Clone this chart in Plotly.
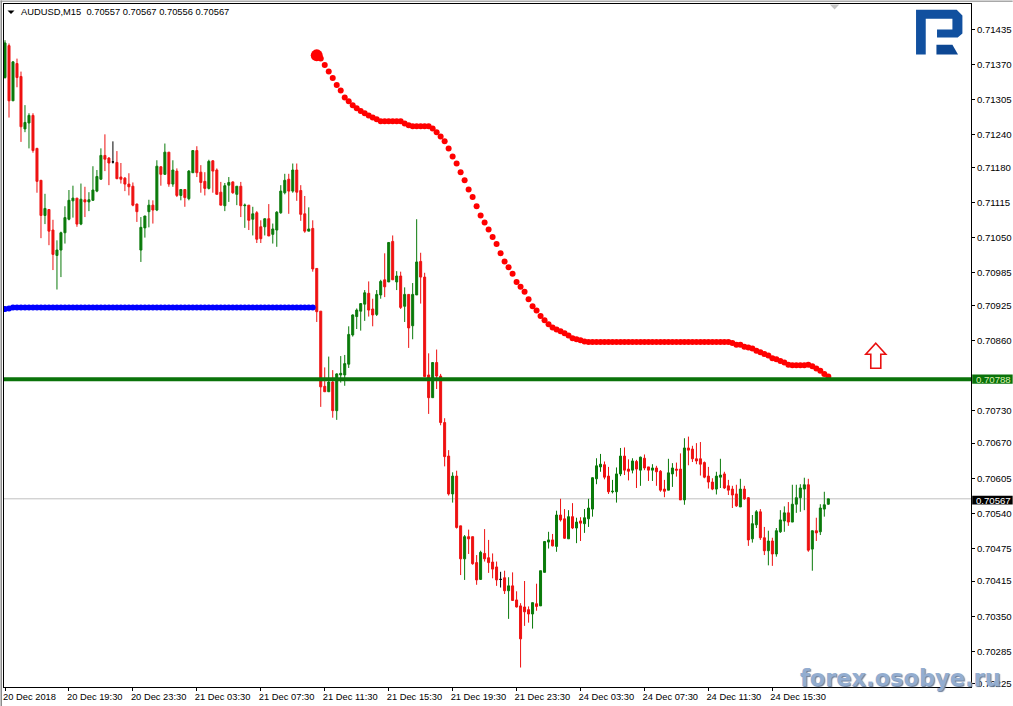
import plotly.graph_objects as go

W, H = 1013, 706
PL, PR, PT, PB = 3.5, 971.3, 3.5, 687.0

# prices are stored as points above 0.70000 (1 point = 0.00001)
open_pts = [
 1346,1405,1303,1372,1348,1251,1262,1276,1215,1156,
 1091,1102,1064,1017,1027,1059,1084,1118,1123,1075,
 1120,1116,1119,1136,1158,1202,1197,1190,1189,1162,
 1160,1149,1145,1112,1027,1068,1098,1110,1101,1181,
 1167,1208,1149,1173,1128,1139,1122,1170,1211,1171,
 1154,1141,1192,1175,1134,1109,1147,1153,1130,1145,
 1109,1110,1084,1096,1070,1070,1085,1056,1064,1096,
 1133,1158,1136,1175,1137,1094,1062,1067,993,914,
 775,765,783,730,796,796,816,870,904,914,
 927,947,918,908,944,972,968,1043,968,979,
 923,945,887,944,1006,977,796,754,819,794,
 708,646,576,609,517,456,497,497,449,418,
 466,458,450,441,418,421,397,406,380,369,
 367,362,354,373,369,431,487,491,479,537,
 530,493,534,513,526,521,530,548,604,626,
 630,609,580,580,613,646,622,620,636,620,
 642,626,620,624,618,585,583,613,622,622,
 565,661,659,641,641,634,609,598,585,607,
 613,591,585,576,552,585,569,493,519,543,
 495,471,489,465,506,526,541,524,557,569,
 585,593,474,508,506,548,557]
high_pts = [
 1415,1409,1376,1381,1357,1295,1280,1280,1216,1156,
 1131,1102,1083,1045,1061,1108,1138,1146,1123,1150,
 1144,1134,1182,1175,1215,1241,1199,1228,1210,1188,
 1162,1169,1152,1113,1088,1090,1120,1119,1193,1182,
 1224,1208,1193,1178,1139,1139,1175,1211,1219,1184,
 1171,1194,1193,1178,1153,1151,1162,1154,1145,1153,
 1113,1110,1107,1099,1082,1085,1112,1076,1099,1147,
 1168,1168,1187,1187,1147,1127,1106,1082,993,914,
 810,830,805,799,831,833,886,908,919,929,
 953,969,937,953,972,1021,1041,1054,988,987,
 958,945,966,1084,1022,985,836,819,843,798,
 716,657,616,619,517,500,510,497,463,471,
 511,491,466,451,432,434,422,431,396,374,
 415,368,375,410,434,489,506,502,545,567,
 548,546,559,532,533,548,567,607,642,650,
 636,626,602,625,661,662,640,642,639,645,
 649,626,631,628,620,602,641,633,634,651,
 679,682,665,670,672,636,626,605,617,641,
 617,602,591,593,604,591,570,537,546,548,
 515,508,495,513,546,553,561,593,593,594,
 606,604,508,532,557,580,567]
low_pts = [
 1344,1272,1303,1328,1227,1245,1215,1207,1133,1049,
 1075,1036,990,954,977,1039,1082,1087,1070,1073,
 1088,1099,1118,1134,1157,1173,1147,1187,1158,1150,
 1136,1128,1108,1079,1005,1050,1069,1076,1099,1146,
 1166,1144,1144,1125,1119,1107,1119,1170,1162,1133,
 1128,1139,1133,1130,1110,1099,1116,1131,1110,1088,
 1068,1064,1054,1040,1040,1054,1053,1039,1033,1094,
 1130,1094,1133,1118,1081,1059,1062,987,894,737,
 765,765,717,713,782,776,809,867,881,878,
 896,904,886,905,937,940,968,972,953,918,
 894,846,862,944,928,793,724,754,770,703,
 627,573,560,512,426,417,465,445,408,417,
 451,430,420,406,403,391,345,378,366,255,
 332,338,327,360,369,431,475,479,469,525,
 493,493,511,485,489,504,515,534,594,617,
 603,576,577,560,609,611,601,614,587,591,
 620,600,600,591,580,570,583,589,608,565,
 556,629,635,631,610,605,586,583,575,587,
 585,574,550,552,552,565,480,486,513,491,
 463,444,443,460,504,506,517,524,541,543,
 546,469,434,489,500,534,556]
close_pts = [
 1410,1303,1375,1346,1255,1263,1276,1211,1154,1091,
 1104,1062,1019,1027,1059,1087,1119,1123,1075,1121,
 1116,1120,1138,1163,1202,1195,1188,1190,1159,1158,
 1149,1144,1110,1098,1069,1090,1110,1101,1182,1167,
 1208,1149,1175,1128,1139,1124,1173,1211,1170,1152,
 1141,1191,1173,1130,1110,1146,1152,1133,1145,1109,
 1110,1082,1094,1047,1048,1085,1053,1066,1097,1136,
 1156,1136,1175,1134,1093,1062,1066,992,913,774,
 765,783,730,798,799,817,871,907,916,928,
 948,916,907,945,969,959,1041,972,979,921,
 945,883,945,1005,977,793,754,819,794,708,
 645,576,609,514,456,497,493,447,417,468,
 456,449,437,417,418,397,406,379,367,308,
 358,354,375,368,434,488,491,480,537,528,
 494,534,513,524,522,532,550,606,628,631,
 607,580,581,613,646,620,618,637,622,644,
 624,620,624,617,583,581,615,624,620,565,
 661,657,641,637,631,607,598,585,609,611,
 587,583,574,554,585,567,491,521,543,495,
 471,489,465,508,528,541,524,557,569,587,
 593,472,508,504,550,556,567]

# blue dotted indicator, one value per bar from bar 0
blue_pts = [918,919,921,921,921,921,921,921,921,921,
 921,921,921,921,921,921,921,921,921,921,
 921,921,921,921,921,921,921,921,921,921,
 921,921,921,921,921,921,921,921,921,921,
 921,921,921,921,921,921,921,921,921,921,
 921,921,921,921,921,921,921,921,921,921,
 921,921,921,921,921,921,921,921,921,921,
 921,921,921,921,921,921,921,921]

# red dotted indicator, one value per bar from bar 79; large start dot on bar 78
red_start_bar = 78
red_start_pts = 1387
red_pts = [1381,1369,1357,1345,1332,1322,1309,1302,1295,1289,1284,1280,1276,1272,1269,1265,
 1265,1265,1265,1265,1265,1261,1258,1256,1256,1256,1256,1256,1252,1245,1237,1228,1215,1200,
 1187,1171,1156,1139,1125,1108,1091,1078,1065,1051,1038,1021,1006,995,983,968,959,950,936,
 923,915,905,897,890,884,880,877,873,869,864,862,860,858,
 857,857,857,857,857,857,857,857,857,857,857,857,857,857,857,857,857,857,
 857,857,857,857,857,857,857,857,857,857,857,857,857,857,857,857,857,857,
 855,852,852,848,847,845,841,838,835,832,827,825,822,819,815,814,814,814,814,815,812,808,804,798,793]

support_price = 0.70788
bid_price = 0.70567

y_tick_labels = ["0.71435","0.71370","0.71305","0.71240","0.71180","0.71115","0.71050",
                 "0.70985","0.70925","0.70860","0.70730","0.70670","0.70605","0.70540",
                 "0.70475","0.70415","0.70350","0.70285","0.70225"]
x_tick_bars = [0,16,32,48,64,80,96,112,128,144,160,176,192]
x_tick_labels = ["20 Dec 2018","20 Dec 19:30","20 Dec 23:30","21 Dec 03:30","21 Dec 07:30",
                 "21 Dec 11:30","21 Dec 15:30","21 Dec 19:30","21 Dec 23:30","24 Dec 03:30",
                 "24 Dec 07:30","24 Dec 11:30","24 Dec 15:30"]
header = "AUDUSD,M15  0.70557 0.70567 0.70556 0.70567"

def price(p):
    return round(0.7 + p / 100000, 5)

def px(x):
    return (x - PL) / (PR - PL)

def py(y):
    return (PB - y) / (PB - PT)

def path(points):
    return "M" + " L".join(f"{px(a):.5f},{py(b):.5f}" for a, b in points) + " Z"

FONT = "Liberation Sans"
GREEN, RED = "#0a7a0a", "#ee1111"
bars = list(range(len(open_pts)))
O, Hi, Lo, C = [[price(v) for v in s] for s in (open_pts, high_pts, low_pts, close_pts)]

fig = go.Figure()

def candles(kind, colour):
    idx = [i for i in bars if kind(O[i], C[i])]
    fig.add_trace(go.Candlestick(
        x=idx, open=[O[i] for i in idx], high=[Hi[i] for i in idx],
        low=[Lo[i] for i in idx], close=[C[i] for i in idx],
        whiskerwidth=0, hoverinfo="skip", showlegend=False,
        increasing=dict(line=dict(color=colour, width=1), fillcolor=colour),
        decreasing=dict(line=dict(color=colour, width=1), fillcolor=colour)))

candles(lambda o, c: c > o, GREEN)
candles(lambda o, c: c < o, RED)
candles(lambda o, c: c == o, "#000000")

fig.add_trace(go.Scatter(x=list(range(len(blue_pts))), y=[price(v) for v in blue_pts],
                         mode="markers", marker=dict(color="#0000ff", size=6),
                         showlegend=False, hoverinfo="skip"))
fig.add_trace(go.Scatter(x=list(range(red_start_bar + 1, red_start_bar + 1 + len(red_pts))),
                         y=[price(v) for v in red_pts],
                         mode="markers", marker=dict(color="#ff0000", size=6),
                         showlegend=False, hoverinfo="skip"))
fig.add_trace(go.Scatter(x=[red_start_bar], y=[price(red_start_pts)],
                         mode="markers", marker=dict(color="#ff0000", size=12),
                         showlegend=False, hoverinfo="skip"))

shapes = [
    dict(type="line", xref="paper", x0=0, x1=1, yref="y", y0=bid_price, y1=bid_price,
         layer="below", line=dict(color="#c0c0c0", width=1)),
    dict(type="line", xref="paper", x0=0, x1=1, yref="y", y0=support_price, y1=support_price,
         layer="above", line=dict(color="#0a730a", width=4)),
    # window edges
    dict(type="rect", xref="paper", yref="paper", x0=px(0), x1=px(W), y0=py(0), y1=py(1.5),
         line=dict(width=0), fillcolor="#a8a8a8", layer="above"),
    dict(type="rect", xref="paper", yref="paper", x0=px(0), x1=px(1.5), y0=py(0), y1=py(H),
         line=dict(width=0), fillcolor="#8c8c8c", layer="above"),
    # price tags
    dict(type="rect", xref="paper", yref="paper", x0=px(972.5), x1=px(W), y0=py(374.3), y1=py(383.6),
         line=dict(width=0), fillcolor="#0a730a", layer="above"),
    dict(type="rect", xref="paper", yref="paper", x0=px(972.5), x1=px(W), y0=py(495.5), y1=py(504.3),
         line=dict(width=0), fillcolor="#000000", layer="above"),
    # signal arrow
    dict(type="path", xref="paper", yref="paper", layer="above",
         path=path([(876, 343), (886, 354), (881, 354), (881, 368), (871, 368), (871, 354), (866, 354)]),
         fillcolor="#ffffff", line=dict(color="#e81010", width=1.6)),
    # chart-shift marker and legend triangle
    dict(type="path", xref="paper", yref="paper", layer="above",
         path=path([(830, 4), (839.5, 4), (834.8, 9)]), fillcolor="#c4c4c4", line=dict(width=0)),
    dict(type="path", xref="paper", yref="paper", layer="above",
         path=path([(7, 10), (14, 10), (10.5, 13.5)]), fillcolor="#000000", line=dict(width=0)),
    # logo
    dict(type="path", xref="paper", yref="paper", layer="above",
         path=path([(916.3, 54), (916.3, 9.3), (957, 9.3), (962.7, 15), (962.7, 33), (958, 37),
                    (937.3, 37), (937.3, 29), (952.7, 29), (952.7, 18.3), (926, 18.3), (926, 54)]),
         fillcolor="#11509f", line=dict(width=0)),
    dict(type="path", xref="paper", yref="paper", layer="above",
         path=path([(936.7, 44.3), (952.7, 44.3), (958.3, 54), (936.7, 54)]),
         fillcolor="#0d4793", line=dict(width=0)),
]

annotations = [
    dict(text=header, xref="paper", yref="paper", x=px(18.5), y=py(11.5), xanchor="left", yanchor="middle",
         showarrow=False, font=dict(family=FONT, size=9.35, color="#000000")),
    dict(text=f"{support_price:.5f}", xref="paper", yref="paper", x=px(975.5), y=py(379), xanchor="left",
         yanchor="middle", width=37, align="left", borderpad=0, showarrow=False,
         font=dict(family=FONT, size=9.6, color="#d8f0b0")),
    dict(text=f"{bid_price:.5f}", xref="paper", yref="paper", x=px(975.5), y=py(500), xanchor="left",
         yanchor="middle", width=37, align="left", borderpad=0, showarrow=False,
         font=dict(family=FONT, size=9.6, color="#ffffff")),
    dict(text="forex.osobye.ru", xref="paper", yref="paper", x=px(798), y=py(678), xanchor="left",
         yanchor="middle", showarrow=False,
         font=dict(family="DejaVu Sans", size=22.5, color="#93add0", weight="bold",
                   shadow="1px 1px 1px #6c7f9c")),
]

fig.update_layout(
    width=W, height=H, autosize=False,
    margin=dict(l=PL, r=W - PR, t=PT, b=H - PB, pad=0, autoexpand=False),
    paper_bgcolor="#ffffff", plot_bgcolor="#ffffff",
    showlegend=False, boxgap=0.5, boxgroupgap=0,
    shapes=shapes, annotations=annotations,
    xaxis=dict(range=[-0.25, 241.7], rangeslider=dict(visible=False), showgrid=False, zeroline=False,
               showline=True, mirror=True, linecolor="#000000", linewidth=1, automargin=False,
               tickmode="array", tickvals=x_tick_bars, ticktext=x_tick_labels, tickangle=0,
               ticks="outside", ticklen=3, tickwidth=1, tickcolor="#000000",
               ticklabelposition="outside right", ticklabelshift=-3, ticklabelstandoff=1,
               tickfont=dict(family=FONT, size=9.35, color="#000000")),
    yaxis=dict(range=[price(219.5), price(1482.5)], side="right", showgrid=False, zeroline=False,
               showline=True, mirror=True, linecolor="#000000", linewidth=1, automargin=False,
               tickmode="array", tickvals=[float(v) for v in y_tick_labels], ticktext=y_tick_labels,
               ticks="outside", ticklen=3, tickwidth=1, tickcolor="#000000",
               tickfont=dict(family=FONT, size=9.6, color="#000000")),
)

fig.write_html("out.html", config=dict(displayModeBar=False),
               post_script="document.body.style.margin='0';document.body.style.overflow='hidden';")
